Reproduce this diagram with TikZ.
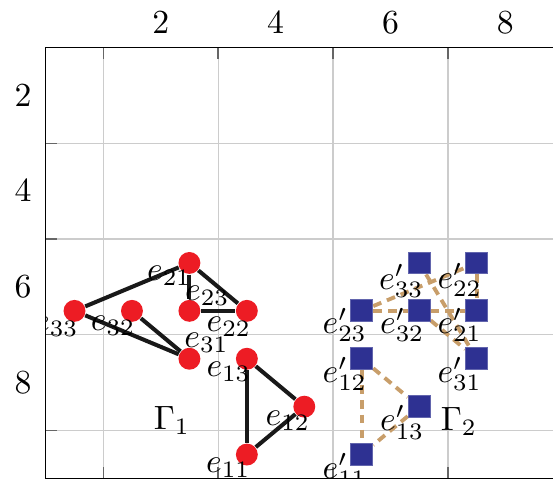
\documentclass[tikz,border=0pt]{standalone}
\definecolor{mred}{RGB}{237,28,36}
\definecolor{mblue}{RGB}{46,49,146}
\definecolor{mtan}{RGB}{200,158,106}
\pgfdeclarelayer{fg}
\pgfsetlayers{main,fg}
\begin{document}
\begin{tikzpicture}[x=17.051pt, y=-14.217pt,
  rdot/.style={circle, fill=mred, inner sep=0pt, minimum size=6.5pt},
  bsq/.style={rectangle, fill=mblue, draw=mblue!75!white, line width=0.3pt, inner sep=0pt, minimum size=6.5pt},
  redge/.style={line width=1.2pt, black!90},
  bedge/.style={line width=1.15pt, mtan, dash pattern=on 2.6pt off 1.8pt},
  lab/.style={inner sep=0pt, anchor=center},
  gridline/.style={gray!40, line width=0.35pt},
  tickmark/.style={gray!80!black, line width=0.4pt},
]
\useasboundingbox (-0.797,0.0104) rectangle (8.829,10.0104);
% grid
\foreach \X in {1,3,5,7} \draw[gridline] (\X,1) -- (\X,10);
\foreach \Y in {3,5,7,9} \draw[gridline] (0,\Y) -- (8.829,\Y);
% ticks
\foreach \X in {1,3,5,7} {
  \draw[tickmark] (\X,1) -- ++(0pt,-3.3pt);
  \draw[tickmark] (\X,10) -- ++(0pt,3.3pt);
}
\foreach \Y in {3,5,7,9} \draw[tickmark] (0,\Y) -- ++(3.3pt,0pt);
% axis lines
\draw[black, line width=0.4pt] (8.829,1) -- (0,1) -- (0,10) -- (8.829,10);
% tick labels
\foreach \X in {2,4,6,8} \node[lab] (xt\X) at (\X,0.49) {$\X$};
\foreach \Y in {2,4,6,8} \node[lab] (yt\Y) at (-0.397,\Y) {$\Y$};

\begin{pgfonlayer}{fg}
\begin{scope}
\clip (0,1) rectangle (8.829,10);
% red markers
\node[rdot] (r11) at (3.5,9.5) {};
\node[rdot] (r12) at (4.5,8.5) {};
\node[rdot] (r13) at (3.5,7.5) {};
\node[rdot] (r21) at (2.5,5.5) {};
\node[rdot] (r22) at (3.5,6.5) {};
\node[rdot] (r23) at (2.5,6.5) {};
\node[rdot] (r31) at (2.5,7.5) {};
\node[rdot] (r32) at (1.5,6.5) {};
\node[rdot] (r33) at (0.5,6.5) {};
% blue markers
\node[bsq] (b11) at (5.5,9.5) {};
\node[bsq] (b12) at (5.5,7.5) {};
\node[bsq] (b13) at (6.5,8.5) {};
\node[bsq] (b21) at (7.5,6.5) {};
\node[bsq] (b22) at (7.5,5.5) {};
\node[bsq] (b23) at (5.5,6.5) {};
\node[bsq] (b31) at (7.5,7.5) {};
\node[bsq] (b32) at (6.5,6.5) {};
\node[bsq] (b33) at (6.5,5.5) {};
% red labels
\node[lab] (lr11) at ([shift={(-5.49pt,-4.0pt)}]r11.center) {$e_{11}$};
\node[lab] (lr12) at ([shift={(-4.9pt,-4.16pt)}]r12.center) {$e_{12}$};
\node[lab] (lr13) at ([shift={(-5.4pt,-3.9pt)}]r13.center) {$e_{13}$};
\node[lab] (lr21) at ([shift={(-6.0pt,-3.9pt)}]r21.center) {$e_{21}$};
\node[lab] (lr22) at ([shift={(-5.34pt,-4.6pt)}]r22.center) {$e_{22}$};
\node[lab] (lr23) at ([shift={(5.3pt,4.45pt)}]r23.center) {$e_{23}$};
\node[lab] (lr31) at ([shift={(5.1pt,4.7pt)}]r31.center) {$e_{31}$};
\node[lab] (lr32) at ([shift={(-5.6pt,-4.45pt)}]r32.center) {$e_{32}$};
\node[lab] (lr33) at ([shift={(-5.4pt,-4.6pt)}]r33.center) {$e_{33}$};
% blue labels
\node[lab] (lb11) at ([shift={(-5.05pt,-4.6pt)}]b11.center) {$e'_{11}$};
\node[lab] (lb12) at ([shift={(-5.05pt,-4.45pt)}]b12.center) {$e'_{12}$};
\node[lab] (lb13) at ([shift={(-5.05pt,-4.6pt)}]b13.center) {$e'_{13}$};
\node[lab] (lb21) at ([shift={(-5.05pt,-4.2pt)}]b21.center) {$e'_{21}$};
\node[lab] (lb22) at ([shift={(-5.05pt,-5.0pt)}]b22.center) {$e'_{22}$};
\node[lab] (lb23) at ([shift={(-5.05pt,-4.2pt)}]b23.center) {$e'_{23}$};
\node[lab] (lb31) at ([shift={(-5.05pt,-4.45pt)}]b31.center) {$e'_{31}$};
\node[lab] (lb32) at ([shift={(-5.05pt,-4.2pt)}]b32.center) {$e'_{32}$};
\node[lab] (lb33) at ([shift={(-5.3pt,-5.4pt)}]b33.center) {$e'_{33}$};
% graph names
\node[lab] (g1) at (2.197,8.78) {$\Gamma_1$};
\node[lab] (g2) at (7.19,8.80) {$\Gamma_2$};
\end{scope}
\end{pgfonlayer}

% red edges
\draw[redge] (r21) -- (r33);
\draw[redge] (r21) -- (r23);
\draw[redge] (r21) -- (r22);
\draw[redge] (r23) -- (r22);
\draw[redge] (r33) -- (r31);
\draw[redge] (r32) -- (r31);
\draw[redge] (r13) -- (r12);
\draw[redge] (r13) -- (r11);
\draw[redge] (r12) -- (r11);
% blue edges
\draw[bedge] (b23) -- (b32);
\draw[bedge] (b32) -- (b21);
\draw[bedge] (b23) -- (b22);
\draw[bedge] (b22) -- (b21);
\draw[bedge] (b33) -- (b31);
\draw[bedge] (b32) -- (b31);
\draw[bedge] (b12) -- (b11);
\draw[bedge] (b12) -- (b13);
\draw[bedge] (b13) -- (b11);
\end{tikzpicture}
\end{document}
